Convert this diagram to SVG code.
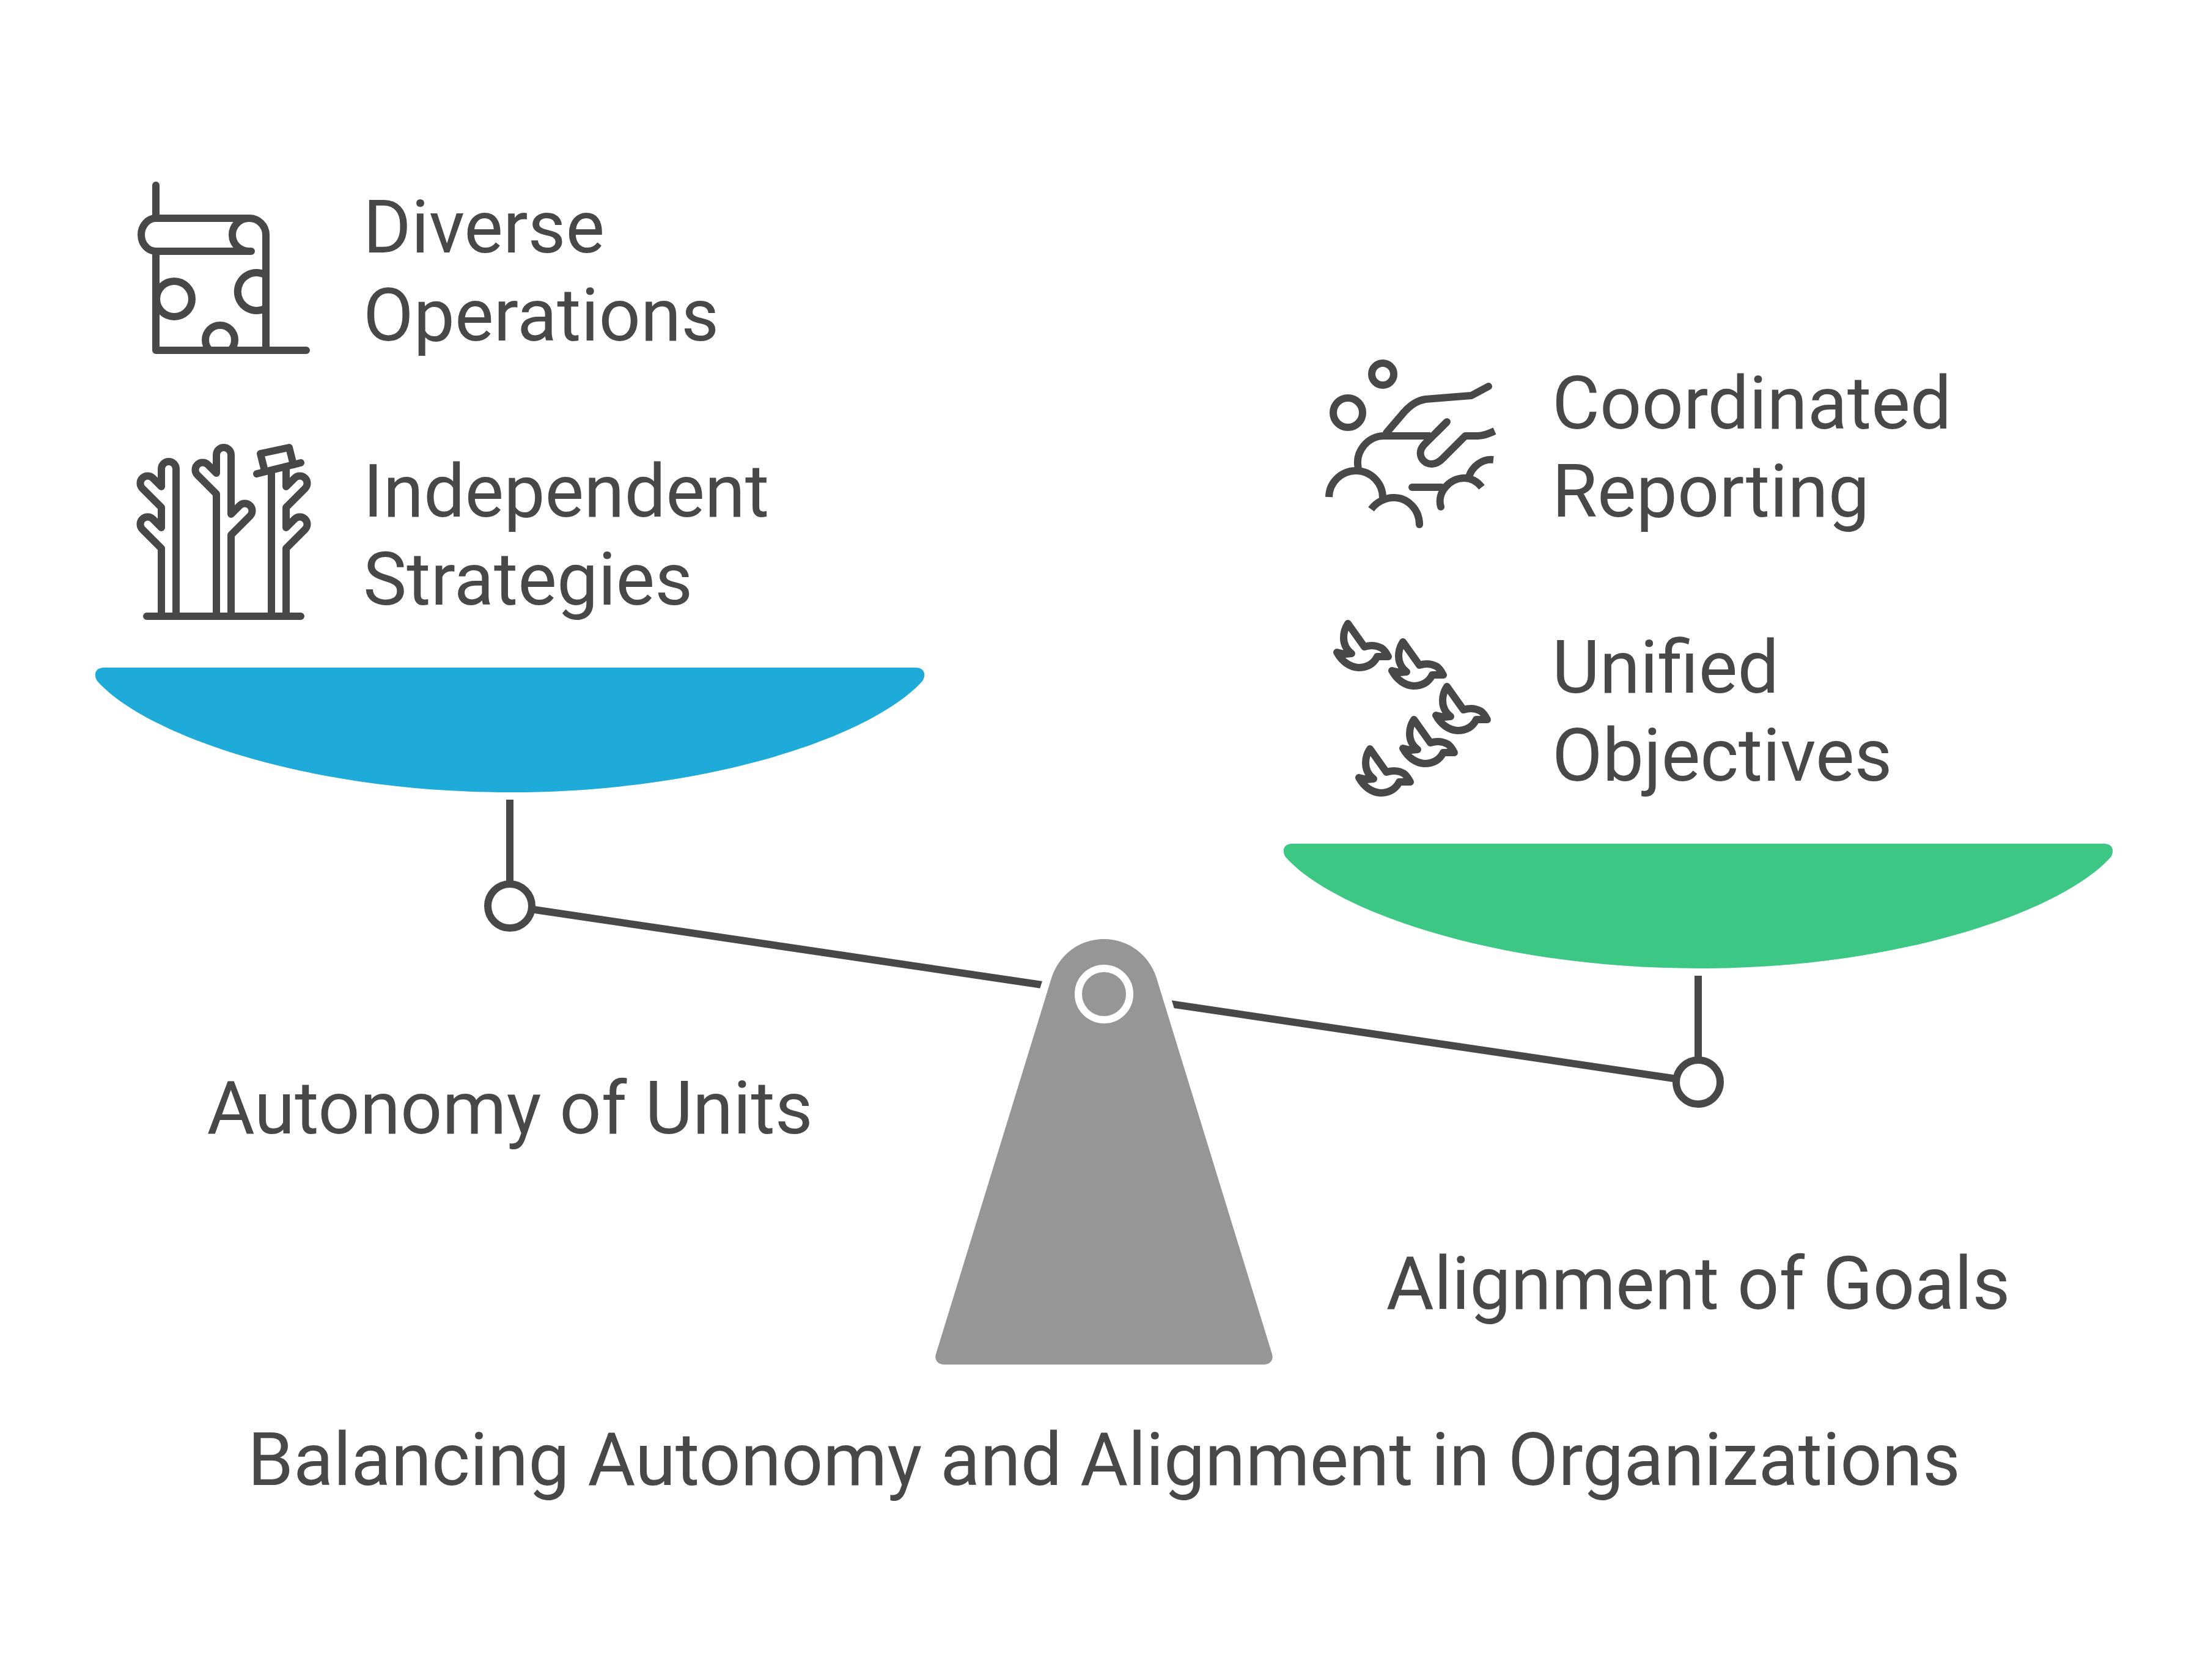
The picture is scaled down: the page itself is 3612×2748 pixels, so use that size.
<svg xmlns="http://www.w3.org/2000/svg" width="3612" height="2748" viewBox="0 0 3612 2748">
<style>
text{font-family:Roboto,"Liberation Sans",sans-serif;font-size:120px;fill:#484848}
.i{fill:none;stroke:#484848;stroke-width:12px;stroke-linecap:round;stroke-linejoin:round}
.b{fill:none;stroke:#484848;stroke-width:12px;stroke-linecap:butt;stroke-linejoin:round}
.l{fill:none;stroke:#484848;stroke-width:12px}
</style>
<defs>
<path id="bird" class="i" d="M2205 1020L2232 1058Q2247 1053 2260 1060Q2265 1063 2271 1074H2253C2245 1090 2230 1092 2222 1092C2208 1091 2195 1082 2187 1067L2200 1070L2211 1069C2203 1063 2198 1055 2198 1043C2198 1033 2201 1026 2205 1020Z"/>
<path id="pan" d="M170 1092H1498C1508 1092 1513 1098 1512 1105C1512 1109 1510 1113 1508 1115C1428 1203 1163 1296 834 1296C505 1296 240 1203 160 1115C158 1113 156 1109 156 1105C155 1098 160 1092 170 1092Z"/>
</defs>
<g id="connectors">
<path class="l" d="M834 1482L2778 1770"/>
<path class="l" d="M834 1308V1446"/>
<path class="l" d="M2778 1596V1734"/>
</g>
<g id="pan-left"><use href="#pan" fill="#1eabda"/></g>
<g id="pan-right"><use href="#pan" fill="#3dc785" x="1944" y="288"/></g>
<g id="fulcrum">
<path fill="#969696" stroke="#fff" stroke-width="26" paint-order="stroke" d="M1720 1600C1732 1562 1766 1536 1806 1536C1846 1536 1880 1562 1892 1600L2081 2215C2084 2225 2077 2232 2068 2232H1544C1535 2232 1528 2225 1531 2215Z"/>
<circle cx="1806" cy="1626" r="42" fill="none" stroke="#fff" stroke-width="12"/>
</g>
<g id="pivot-left"><circle cx="834" cy="1482" r="36" fill="#fff" stroke="#484848" stroke-width="12"/></g>
<g id="pivot-right"><circle cx="2778" cy="1770" r="36" fill="#fff" stroke="#484848" stroke-width="12"/></g>
<g id="icon-operations">
<path class="i" d="M255 303V357M255 357H408A27 27 0 0 1 435 384V573M255 357A24 27 0 0 0 255 411H411M411 411H407A27 27 0 0 1 407 357M255 411V573H501"/>
<circle class="i" cx="285" cy="489" r="29"/>
<path class="b" d="M435 450A31 31 0 1 0 435 504"/>
<path class="b" d="M343 573A24 24 0 1 1 377 573"/>
</g>
<g id="icon-strategies">
<path class="i" d="M264 1008V897L233 866A12 12 0 0 1 250 849L264 863V830L233 799A12 12 0 0 1 250 782L264 796V767A12 12 0 0 1 288 767V1008"/>
<path class="i" d="M354 1008V808L323 777A12 12 0 0 1 340 760L354 774V744A12 12 0 0 1 378 744V841L392 827A12 12 0 0 1 409 844L378 875V1008"/>
<path class="i" d="M444 1008V772M468 1008V897L499 866A12 12 0 0 0 482 849L468 863V830L499 799A12 12 0 0 0 482 782L468 796V768"/>
<path class="i" d="M240 1008H492M420 775L492 757"/>
<path class="i" d="M433 770L426 742L473 732L480 760"/>
</g>
<g id="icon-reporting">
<circle class="i" cx="2262" cy="612" r="18"/>
<circle class="i" cx="2205" cy="675" r="24"/>
<path class="i" d="M2268 708L2297 674C2310 660 2320 655 2332 653L2407 647L2435 632"/>
<path class="b" d="M2222 766C2216 738 2238 713 2264 713H2340"/>
<path class="b" d="M2367 690L2331 726C2315 742 2328 759 2342 759C2350 759 2355 755 2360 750L2397 713H2418C2427 713 2436 709 2445 705"/>
<path class="i" d="M2367 690L2350 707"/>
<path class="b" d="M2174 813A44 44 0 0 1 2262 815"/>
<path class="b" d="M2243 833C2252 821 2266 814 2280 814A42 44 0 0 1 2322 858"/>
<path class="i" d="M2322 858V858"/>
<path class="i" d="M2310 797H2358"/>
<path class="i" d="M2357 829C2350 805 2372 782 2395 782"/>
<path class="b" d="M2395 782C2407 782 2417 788 2424 797"/>
<path class="b" d="M2403 780C2408 763 2425 750 2443 752"/>
</g>
<g id="icon-objectives">
<use href="#bird"/><use href="#bird" x="90" y="30"/><use href="#bird" x="162" y="103"/><use href="#bird" x="108" y="157"/><use href="#bird" x="36" y="205"/>
</g>
<g id="labels">
<text x="594" y="413">Diverse</text>
<text x="594" y="557">Operations</text>
<text x="594" y="845">Independent</text>
<text x="594" y="989">Strategies</text>
<text x="2539" y="701">Coordinated</text>
<text x="2539" y="845">Reporting</text>
<text x="2539" y="1133">Unified</text>
<text x="2539" y="1277">Objectives</text>
<text x="834" y="1854" text-anchor="middle">Autonomy of Units</text>
<text x="2778" y="2141" text-anchor="middle">Alignment of Goals</text>
<text x="1806" y="2429" text-anchor="middle">Balancing Autonomy and Alignment in Organizations</text>
</g>
</svg>
